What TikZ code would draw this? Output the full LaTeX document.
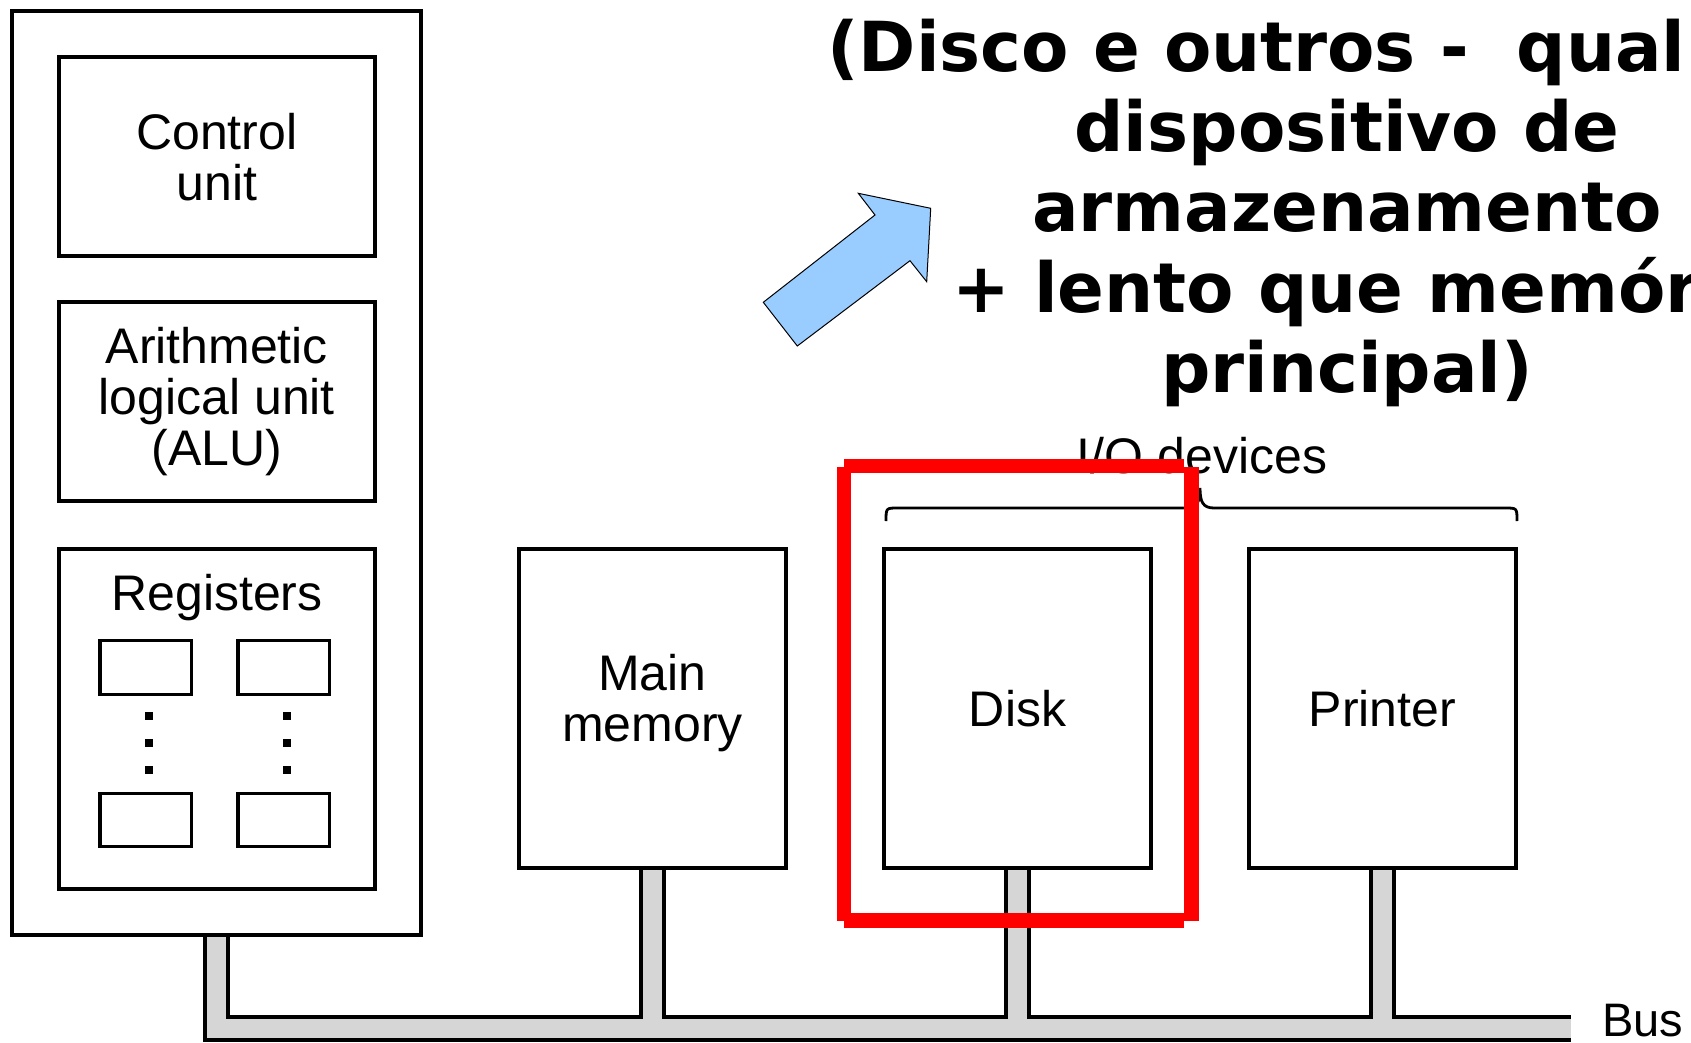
\documentclass[tikz,border=0pt]{standalone}
\usepackage{fontspec}
\setmainfont{Liberation Sans}
\newfontfamily\notefont{DejaVu Sans}
\definecolor{busgrey}{RGB}{214,214,214}
\definecolor{arrowblue}{RGB}{153,204,255}
\definecolor{markred}{RGB}{255,0,0}
\begin{document}
\begin{tikzpicture}[x=0.5pt,y=-0.5pt,
  box/.style={draw, line width=2pt, fill=white, inner sep=0pt, outer sep=0pt, align=center},
  cpulabel/.style={font=\fontsize{25}{25.5}\selectfont},
  devlabel/.style={font=\fontsize{25}{25.5}\selectfont},
  regbox/.style={draw, line width=1.7pt, fill=white, inner sep=0pt, outer sep=0pt,
    minimum width=45.85pt, minimum height=27pt},
  regdot/.style={fill=black, inner sep=0pt, minimum size=4pt},
  busline/.style={line width=13.5pt, black, line join=miter},
  busfill/.style={line width=9.5pt, busgrey, line join=miter},
  highlight/.style={markred, line width=7.3pt},
  notetext/.style={font=\notefont\bfseries\fontsize{34.5}{39.5}\selectfont, inner sep=0pt}
]
\clip (0,0) rectangle (1691,1043);
\fill[white] (0,0) rectangle (1691,1043);

% bus end and the points where the stubs leave the boxes
\coordinate (busend) at (1571,1028);
\coordinate (cpubot) at (216.5,934.5);
\coordinate (membot) at (652.5,868);
\coordinate (diskbot) at (1017.5,868);
\coordinate (prnbot) at (1382.5,868);

% stubs and bus (outline first, grey fill on top)
\draw[busline] (cpubot) |- (busend);
\draw[busline] (membot) -- (membot |- busend);
\draw[busline] (diskbot) -- (diskbot |- busend);
\draw[busline] (prnbot) -- (prnbot |- busend);
\draw[busfill] (cpubot) |- (busend);
\draw[busfill] (membot) -- (membot |- busend);
\draw[busfill] (diskbot) -- (diskbot |- busend);
\draw[busfill] (prnbot) -- (prnbot |- busend);

% CPU
\node[box, minimum width=204.5pt, minimum height=461.75pt] (cpu) at (216.5,472.75) {};
\node[box, cpulabel, minimum width=157.85pt, minimum height=99.25pt] (cu) at (216.8,156.75) {Control\\unit};
\node[box, cpulabel, minimum width=157.85pt, minimum height=99.5pt] (alu) at (216.8,401.5) {Arithmetic\\logical unit\\(ALU)};
\node[box, minimum width=157.85pt, minimum height=170pt] (reg) at (216.8,718.7) {};
\node[cpulabel, anchor=base, inner sep=0pt] (regtitle) at (217,610) {Registers};
\node[regbox] (r1) at (145.8,667.2) {};
\node[regbox] (r2) at (283.8,667.2) {};
\node[regbox, minimum height=26.7pt] (r3) at (145.8,820) {};
\node[regbox, minimum height=26.7pt] (r4) at (283.8,820) {};
\foreach \yy [count=\i] in {716,743,770} {
  \node[regdot] (dl\i) at (149,\yy) {};
  \node[regdot] (dr\i) at (286.7,\yy) {};
}

% memory and devices
\node[box, minimum width=133.5pt, minimum height=159.5pt] (mem) at (652.5,708.5) {};
\node[devlabel, align=center, inner sep=0pt] (memlabel) at (652.5,703) {Main\\memory};
\node[box, devlabel, minimum width=133.5pt, minimum height=159.5pt] (disk) at (1017.5,708.5) {Disk};
\node[box, devlabel, minimum width=133.5pt, minimum height=159.5pt] (prn) at (1382.5,708.5) {Printer};
\node[font=\fontsize{23.5}{24}\selectfont, anchor=base west, inner sep=0pt] (buslabel) at (1602,1036) {Bus};

% I/O devices brace
\node[devlabel, anchor=base, inner sep=0pt] (iolabel) at (1202,473) {I/O devices};
\coordinate (brL) at (886,521);
\coordinate (brTip) at (1200,488);
\coordinate (brR) at (1517,521);
\draw[line width=1.4pt] (brL) .. controls (886,508) .. (898,508) -- (1186,508)
  .. controls (1197,508) and (1200,502) .. (brTip)
  .. controls (1200,502) and (1203,508) .. (1214,508) -- (1505,508)
  .. controls (1517,508) .. (brR);

% red highlight around the disk
\draw[highlight] (844,467) -- (844,920.5);
\draw[highlight] (1191.5,467) -- (1191.5,920.5);
\draw[highlight] (844,466) -- (1184,466);
\draw[highlight] (844,920.5) -- (1184,920.5);

% block arrow
\draw[fill=arrowblue, line width=0.5pt, line join=miter]
  (763.3,302.3) -- (875,215) -- (858.3,193.3) -- (930.7,208.3)
  -- (926.7,281.7) -- (910,260.7) -- (797.3,346) -- cycle;

% note
\node[notetext, anchor=base west] (n1) at (827,72) {(Disco e outros -~\ qual};
\node[notetext, anchor=base] (n2) at (1347,152) {dispositivo de};
\node[notetext, anchor=base] (n3) at (1347,232) {armazenamento};
\node[notetext, anchor=base west] (n4) at (952,312) {+ lento que memór};
\node[notetext, anchor=base] (n5) at (1347,392) {principal)};
\end{tikzpicture}
\end{document}
